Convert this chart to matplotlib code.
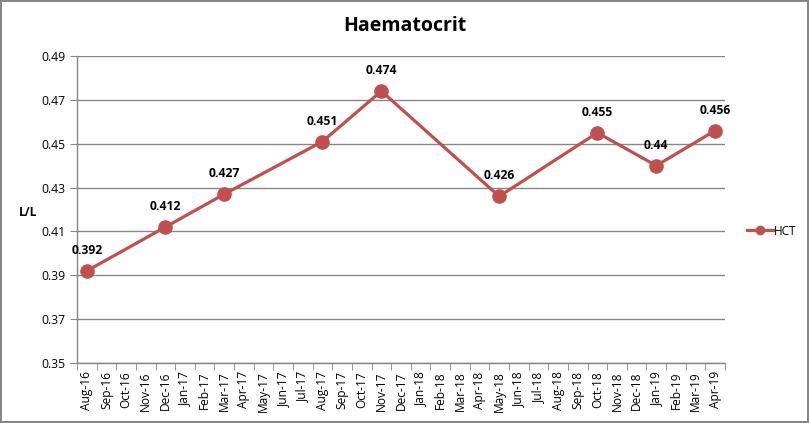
import matplotlib
matplotlib.use("Agg")
import matplotlib.pyplot as plt
from matplotlib.lines import Line2D

months = ["Aug-16","Sep-16","Oct-16","Nov-16","Dec-16","Jan-17","Feb-17","Mar-17","Apr-17","May-17",
          "Jun-17","Jul-17","Aug-17","Sep-17","Oct-17","Nov-17","Dec-17","Jan-18","Feb-18","Mar-18",
          "Apr-18","May-18","Jun-18","Jul-18","Aug-18","Sep-18","Oct-18","Nov-18","Dec-18","Jan-19",
          "Feb-19","Mar-19","Apr-19"]
point_months = ["Aug-16","Dec-16","Mar-17","Aug-17","Nov-17","May-18","Oct-18","Jan-19","Apr-19"]
hct = [0.392, 0.412, 0.427, 0.451, 0.474, 0.426, 0.455, 0.44, 0.456]
hct_labels = ["0.392","0.412","0.427","0.451","0.474","0.426","0.455","0.44","0.456"]
yticks = [0.35, 0.37, 0.39, 0.41, 0.43, 0.45, 0.47, 0.49]

plt.rcParams['font.family'] = ['Open Sans', 'DejaVu Sans']
red = "#C0504D"
grid = "#868686"

fig = plt.figure(figsize=(8.09, 4.23), dpi=100)
fig.patch.set_facecolor("white")
fig.patch.set_edgecolor("#878787")
fig.patch.set_linewidth(1.5)
ax = fig.add_axes([77/809, 1-363/423, (725-77)/809, (363-56)/423])

xs = [months.index(m) for m in point_months]
ax.plot(xs, hct, color=red, lw=2.3, marker="o", ms=9.5, mfc=red, mec=red, zorder=3)
for x, y, t in zip(xs, hct, hct_labels):
    ax.annotate(t, (x, y), xytext=(0, 10), textcoords="offset points", ha="center", va="bottom",
                fontsize=8.7, fontweight="bold", color="black")

ax.set_xlim(-0.5, len(months)-0.5)
ax.set_ylim(0.35, 0.49)
ax.set_yticks(yticks)
ax.set_yticklabels([f"{v:.2f}" for v in yticks], fontsize=8.8)
ax.set_xticks(range(len(months)))
ax.set_xticklabels(months, rotation=90, fontsize=8.6)
ax.tick_params(axis="x", length=0, pad=6)
ax.set_xticks([i-0.5 for i in range(len(months)+1)], minor=True)
ax.tick_params(axis="x", which="minor", length=5, color=grid, direction="out")
ax.tick_params(axis="y", length=5, color=grid, direction="out", pad=3)
ax.yaxis.grid(True, color=grid, lw=1)
ax.set_axisbelow(True)
for s in ["top", "right"]:
    ax.spines[s].set_visible(False)
for s in ["left", "bottom"]:
    ax.spines[s].set_color(grid)
    ax.spines[s].set_linewidth(1)

ax.set_ylabel("L/L", rotation=0, fontsize=8.6, fontweight="bold", va="center")
ax.yaxis.set_label_coords(-0.075, 0.49)
fig.text(0.5, 1-26/423, "Haematocrit", ha="center", va="center", fontsize=14, fontweight="bold")

h = Line2D([], [], color=red, lw=2.3, marker="o", ms=6, mfc=red, mec=red)
fig.legend([h], ["HCT"], loc="center left", bbox_to_anchor=(742/809, 1-231/423), frameon=False,
           fontsize=8.5, handlelength=2.2, handletextpad=0.1, borderaxespad=0)

fig.savefig("out.png", dpi=100)
